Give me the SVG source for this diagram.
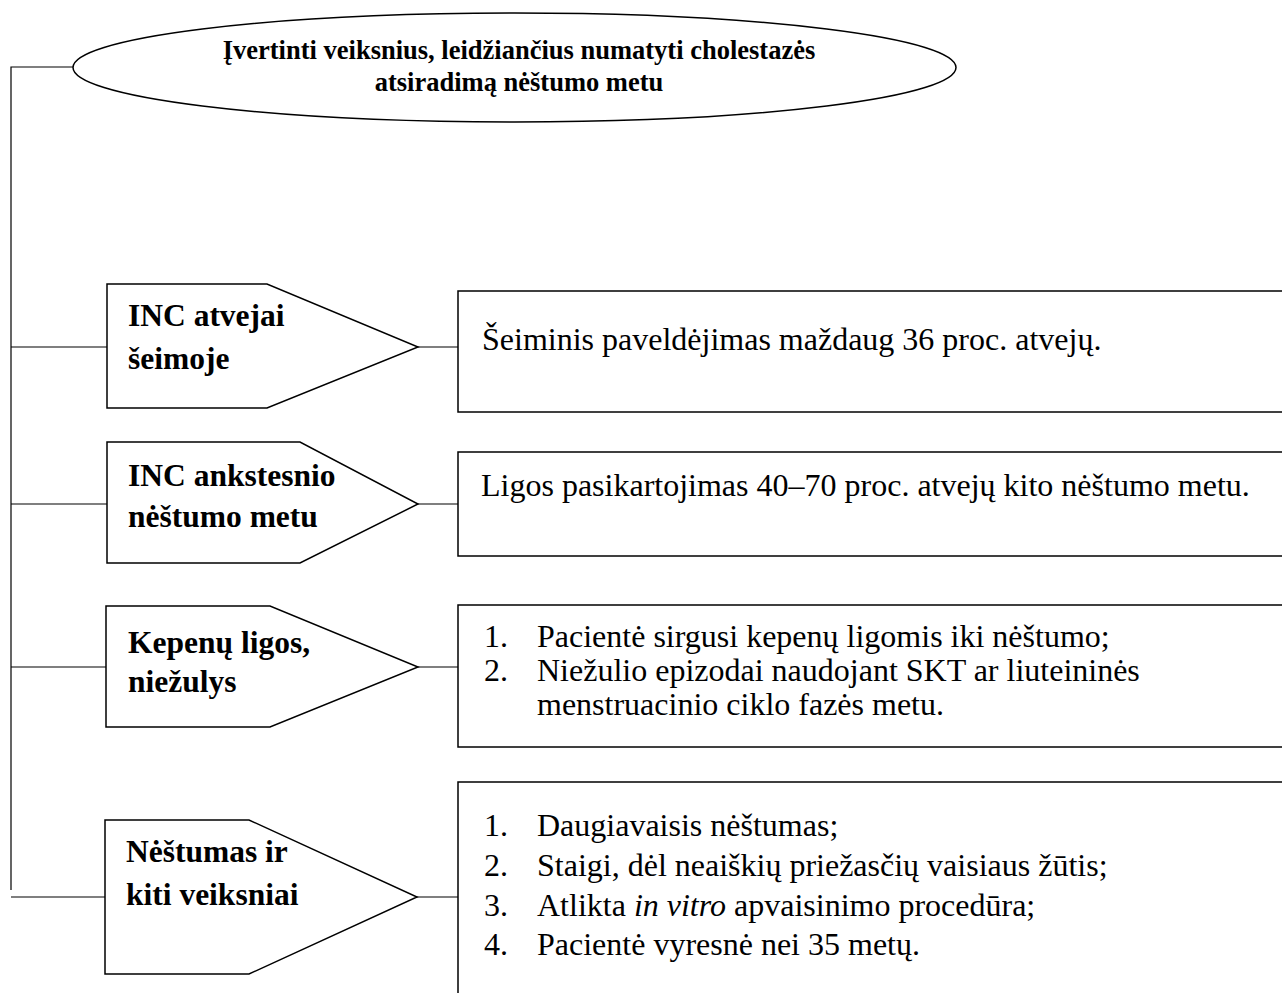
<svg xmlns="http://www.w3.org/2000/svg" width="1282" height="993" viewBox="0 0 1282 993">
<style>
.s{fill:#fff;stroke:#000;stroke-width:1.5}
.c{fill:none;stroke:#000;stroke-width:1.2}
.t{font-family:"Liberation Serif",serif;font-size:26.5px;font-weight:bold;fill:#000}
.h{font-family:"Liberation Serif",serif;font-size:31.5px;font-weight:bold;fill:#000}
.b{font-family:"Liberation Serif",serif;font-size:32px;fill:#000}
</style>
<rect width="1282" height="993" fill="#fff"/>
<g id="connectors">
<polyline class="c" points="73,67 11,67 11,890"/>
<line class="c" x1="11" y1="347" x2="107" y2="347"/>
<line class="c" x1="11" y1="504" x2="107" y2="504"/>
<line class="c" x1="11" y1="667" x2="107" y2="667"/>
<line class="c" x1="11" y1="897" x2="105" y2="897"/>
<line class="c" x1="418" y1="347" x2="458" y2="347"/>
<line class="c" x1="418" y1="504" x2="458" y2="504"/>
<line class="c" x1="418" y1="667" x2="458" y2="667"/>
<line class="c" x1="417" y1="897" x2="458" y2="897"/>
</g>
<g id="title">
<ellipse class="s" cx="514.5" cy="67.5" rx="441.5" ry="54.5"/>
<text class="t" x="519" y="59" text-anchor="middle">Įvertinti veiksnius, leidžiančius numatyti cholestazės</text>
<text class="t" x="519" y="91" text-anchor="middle">atsiradimą nėštumo metu</text>
</g>
<g id="p1">
<polygon class="s" points="107,284 267,284 418,347 267,408 107,408"/>
<text class="h" x="128" y="326">INC atvejai</text>
<text class="h" x="128" y="369">šeimoje</text>
</g>
<g id="r1">
<rect class="s" x="458" y="291" width="830" height="121"/>
<text class="b" x="482" y="350">Šeiminis paveldėjimas maždaug 36 proc. atvejų.</text>
</g>
<g id="p2">
<polygon class="s" points="107,442 300,442 418,504 300,563 107,563"/>
<text class="h" x="128" y="486">INC ankstesnio</text>
<text class="h" x="128" y="527">nėštumo metu</text>
</g>
<g id="r2">
<rect class="s" x="458" y="452" width="830" height="104"/>
<text class="b" x="481" y="496">Ligos pasikartojimas 40–70 proc. atvejų kito nėštumo metu.</text>
</g>
<g id="p3">
<polygon class="s" points="106,606 270,606 418,667 270,727 106,727"/>
<text class="h" x="128" y="653">Kepenų ligos,</text>
<text class="h" x="128" y="692">niežulys</text>
</g>
<g id="r3">
<rect class="s" x="458" y="605" width="830" height="142"/>
<text class="b" x="484" y="647">1.</text>
<text class="b" x="537" y="647">Pacientė sirgusi kepenų ligomis iki nėštumo;</text>
<text class="b" x="484" y="681">2.</text>
<text class="b" x="537" y="681">Niežulio epizodai naudojant SKT ar liuteininės</text>
<text class="b" x="537" y="715">menstruacinio ciklo fazės metu.</text>
</g>
<g id="p4">
<polygon class="s" points="105,820 249,820 417,897 249,974 105,974"/>
<text class="h" x="126" y="862">Nėštumas ir</text>
<text class="h" x="126" y="905">kiti veiksniai</text>
</g>
<g id="r4">
<rect class="s" x="458" y="782" width="830" height="230"/>
<text class="b" x="484" y="836">1.</text>
<text class="b" x="537" y="836">Daugiavaisis nėštumas;</text>
<text class="b" x="484" y="876">2.</text>
<text class="b" x="537" y="876">Staigi, dėl neaiškių priežasčių vaisiaus žūtis;</text>
<text class="b" x="484" y="916">3.</text>
<text class="b" x="537" y="916">Atlikta <tspan font-style="italic">in vitro</tspan> apvaisinimo procedūra;</text>
<text class="b" x="484" y="955">4.</text>
<text class="b" x="537" y="955">Pacientė vyresnė nei 35 metų.</text>
</g>
</svg>
